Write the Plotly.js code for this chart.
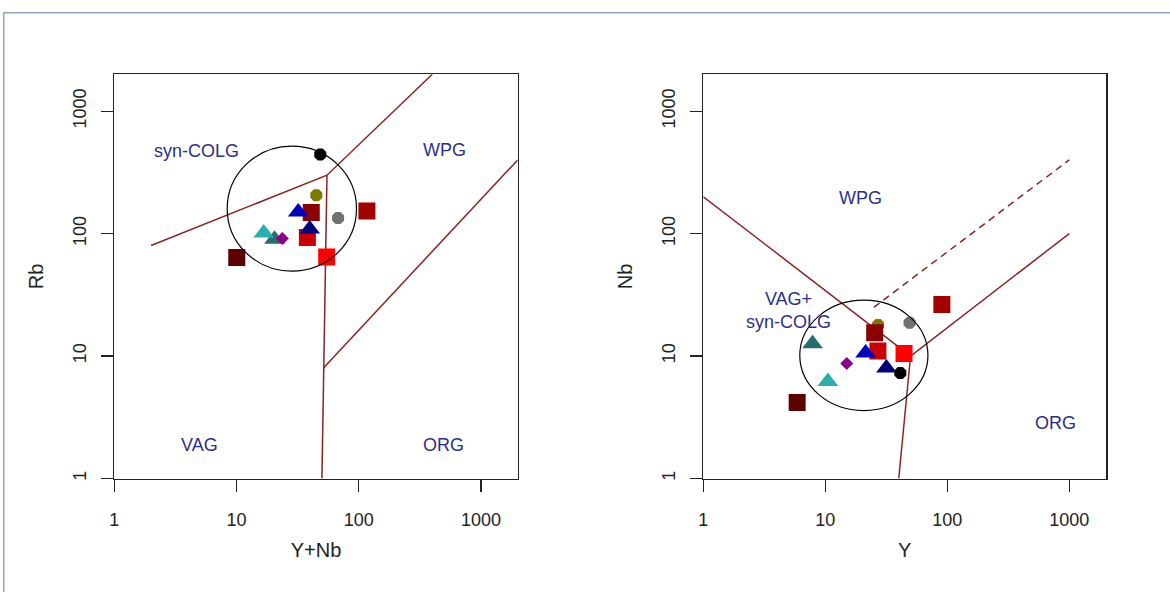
<!DOCTYPE html>
<html>
<head>
<meta charset="utf-8">
<script src="https://cdn.plot.ly/plotly-3.0.1.min.js"></script>
<style>
  html, body { margin: 0; padding: 0; background: #ffffff; }
  #chart { width: 1170px; height: 592px; }
</style>
</head>
<body>
<div id="chart"></div>
<script>
// ---- Sample data (ppm) ----
const sampleY  = [27.1, 49.1, 5.88, 25.4, 90.3, 27.0, 44.2, 7.86, 10.5, 15.0, 21.4, 31.7, 41.2];
const sampleNb = [17.9, 18.7, 4.17, 15.5, 26.4, 11.0, 10.5, 12.6, 6.2, 8.7, 10.6, 8.0, 7.27];
const sampleRb = [206, 134, 63.7, 149, 153, 93, 64.4, 90, 101, 91, 150, 109, 442];

// ---- Tick labels ----
const tickValues = [1, 10, 100, 1000];
const tickLabels = ['1', '10', '100', '1000'];

// ---- Field boundaries (Pearce et al., 1984) ----
const rbBoundaryA_x = [2, 55, 400];      const rbBoundaryA_y = [80, 300, 2000];
const rbBoundaryB_x = [55, 51.5, 50];    const rbBoundaryB_y = [300, 8, 1];
const rbBoundaryC_x = [51.5, 2000];      const rbBoundaryC_y = [8, 400];

const nbBoundaryA_x = [1, 50];           const nbBoundaryA_y = [200, 10];
const nbBoundaryB_x = [40, 50, 1000];    const nbBoundaryB_y = [1, 10, 100];
const nbDashed_x    = [25, 1000];        const nbDashed_y    = [25, 400];

// ---- Styles (kept separate from data) ----
const markerColors  = ['#7a7a00', '#707070', '#5c0000', '#8b0000', '#a30000', '#c80000', '#ff0000',
                       '#236e6e', '#2aaeae', '#8b008b', '#0000c0', '#00007a', '#000000'];
const markerSymbols = ['octagon', 'octagon', 'square', 'square', 'square', 'square', 'square',
                       'triangle-up', 'triangle-up', 'diamond', 'triangle-up', 'triangle-up', 'octagon'];
const markerSizes   = [13, 13, 17, 17, 17, 17, 17, 18, 18, 10, 18, 18, 13];

const YplusNb = sampleY.map((v, i) => v + sampleNb[i]);

const lineColor = '#8b2323';
const FONT = 'Liberation Sans, Arial, sans-serif';

function boundary(x, y, xa, ya, dash) {
  return { x: x, y: y, xaxis: xa, yaxis: ya, type: 'scatter', mode: 'lines',
           line: { color: lineColor, width: 1.5, dash: dash || 'solid' },
           hoverinfo: 'skip', showlegend: false };
}

const traces = [
  boundary(rbBoundaryA_x, rbBoundaryA_y, 'x', 'y'),
  boundary(rbBoundaryB_x, rbBoundaryB_y, 'x', 'y'),
  boundary(rbBoundaryC_x, rbBoundaryC_y, 'x', 'y'),
  boundary(nbBoundaryA_x, nbBoundaryA_y, 'x2', 'y2'),
  boundary(nbBoundaryB_x, nbBoundaryB_y, 'x2', 'y2'),
  boundary(nbDashed_x, nbDashed_y, 'x2', 'y2', '7px,5px'),
  { x: YplusNb, y: sampleRb, xaxis: 'x', yaxis: 'y', type: 'scatter', mode: 'markers',
    marker: { color: markerColors, symbol: markerSymbols, size: markerSizes, opacity: 1, line: { width: 0 } },
    showlegend: false },
  { x: sampleY, y: sampleNb, xaxis: 'x2', yaxis: 'y2', type: 'scatter', mode: 'markers',
    marker: { color: markerColors, symbol: markerSymbols, size: markerSizes, opacity: 1, line: { width: 0 } },
    showlegend: false }
];

const W = 1170, H = 592;
const px = v => v / W;
const py = v => 1 - v / H;
const logMax = Math.log10(2000);

function xAxis(domain, title, anchor) {
  return {
    type: 'log', range: [0, logMax], domain: domain, anchor: anchor,
    tickvals: tickValues, ticktext: tickLabels,
    ticks: 'outside', ticklen: 12, tickwidth: 1.3, tickcolor: '#222',
    showline: true, linecolor: '#222', linewidth: 1.5, mirror: true,
    showgrid: false, zeroline: false, fixedrange: true,
    tickfont: { family: FONT, size: 18, color: '#222' },
    ticklabelstandoff: 12,
    title: { text: title, font: { family: FONT, size: 20, color: '#222' }, standoff: 14 }
  };
}
function yAxis(domain, title, anchor) {
  return {
    type: 'log', range: [0, logMax], domain: domain, anchor: anchor,
    tickvals: tickValues, ticktext: tickLabels, tickangle: -90,
    ticks: 'outside', ticklen: 12, tickwidth: 1.3, tickcolor: '#222',
    showline: true, linecolor: '#222', linewidth: 1.5, mirror: true,
    showgrid: false, zeroline: false, fixedrange: true,
    tickfont: { family: FONT, size: 18, color: '#222' },
    ticklabelstandoff: 8,
    title: { text: title, font: { family: FONT, size: 20, color: '#222' }, standoff: 20 }
  };
}

const yDom = [py(478.5), py(74.3)];
const labelFont = { family: FONT, size: 18, color: '#2b2f8c' };
function lab(text, x, y, xa, ya) {
  return { text: text, x: Math.log10(x), y: Math.log10(y), xref: xa, yref: ya,
           showarrow: false, font: labelFont, align: 'center' };
}

const layout = {
  width: W, height: H,
  margin: { l: 0, r: 0, t: 0, b: 0 },
  paper_bgcolor: '#ffffff', plot_bgcolor: '#ffffff',
  showlegend: false,
  xaxis: xAxis([px(114.3), px(517.7)], 'Y+Nb', 'y'),
  yaxis: yAxis(yDom, 'Rb', 'x'),
  xaxis2: xAxis([px(703.3), px(1106)], 'Y', 'y2'),
  yaxis2: yAxis(yDom, 'Nb', 'x2'),
  annotations: [
    lab('syn-COLG', 4.75, 473, 'x', 'y'),
    lab('WPG', 506, 485, 'x', 'y'),
    lab('VAG', 4.97, 1.88, 'x', 'y'),
    lab('ORG', 490, 1.88, 'x', 'y'),
    lab('WPG', 19.4, 194, 'x2', 'y2'),
    lab('VAG+<br>syn-COLG', 4.96, 23.6, 'x2', 'y2'),
    lab('ORG', 769, 2.86, 'x2', 'y2')
  ],
  shapes: [
    { type: 'rect', xref: 'paper', yref: 'paper', x0: px(3.7), x1: 1.02, y0: -0.02, y1: py(12.7),
      line: { color: '#8ea5bd', width: 1.5 }, fillcolor: 'rgba(0,0,0,0)', layer: 'below' },
    { type: 'circle', xref: 'x', yref: 'y', x0: 8.39, x1: 95.9, y0: 49.4, y1: 518,
      line: { color: '#000000', width: 1.2 } },
    { type: 'circle', xref: 'x2', yref: 'y2', x0: 6.18, x1: 69.4, y0: 3.59, y1: 28.6,
      line: { color: '#000000', width: 1.2 } }
  ]
};

Plotly.newPlot('chart', traces, layout, { displayModeBar: false, staticPlot: true });
</script>
</body>
</html>
